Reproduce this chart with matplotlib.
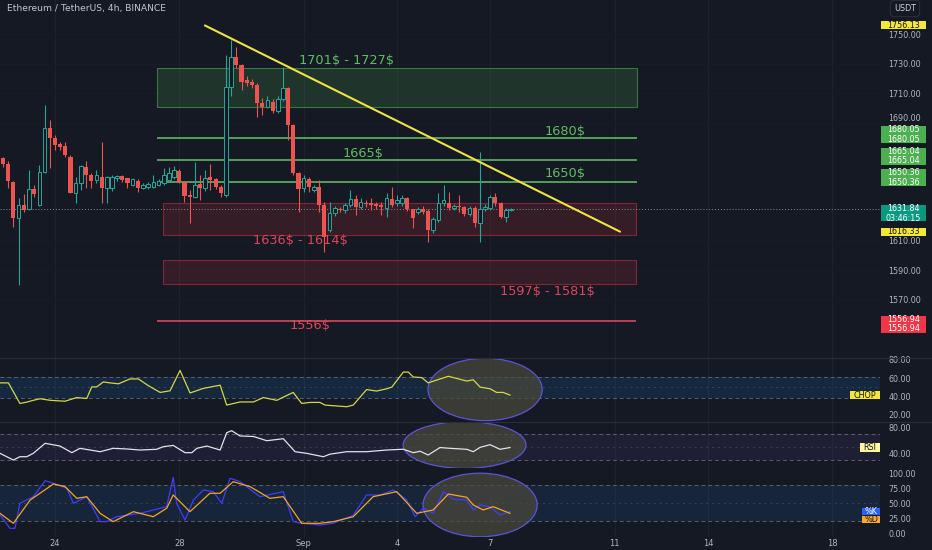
import matplotlib.pyplot as plt
from matplotlib.patches import Rectangle, Ellipse
from matplotlib.lines import Line2D
from matplotlib.transforms import blended_transform_factory

W, H = 932, 550
BG = '#151924'
GRID = '#1e222d'
TXT = '#b2b5be'
UP = '#26a69a'
DOWN = '#ef5350'

# ---- data ----
start_day = 22.33          # first 4h candle (Aug 22)
opens = [1666.1, 1662.2, 1650.2, 1625.4, 1634.4, 1631.5, 1645.0, 1634.4, 1657.0, 1686.4,
         1679.6, 1675.6, 1674.4, 1667.2, 1642.7, 1649.5, 1660.4, 1654.7, 1651.4, 1653.6,
         1645.7, 1646.0, 1652.5, 1654.0, 1652.5, 1648.0, 1651.0, 1645.7, 1646.3, 1646.8,
         1648.0, 1649.1, 1651.4, 1653.2, 1657.7, 1650.2, 1641.2, 1640.0, 1648.4, 1645.7,
         1653.2, 1651.8, 1646.8, 1641.2, 1714.6, 1735.0, 1729.3, 1719.0, 1718.0, 1715.8,
         1703.8, 1700.8, 1704.4, 1698.3, 1706.3, 1713.7, 1688.6, 1656.3, 1646.0, 1652.0,
         1644.4, 1646.8, 1634.4, 1617.5, 1628.8, 1631.5, 1631.0, 1634.4, 1638.3, 1633.3,
         1636.0, 1636.0, 1635.0, 1634.4, 1632.2, 1638.3, 1635.6, 1635.6, 1639.0, 1631.5,
         1629.9, 1631.5, 1630.5, 1617.5, 1624.2, 1635.6, 1636.0, 1632.2, 1633.7, 1632.8,
         1628.3, 1632.2, 1622.4, 1631.5, 1632.2, 1639.6, 1635.6, 1626.5, 1631.0]
highs = [1667.2, 1664.0, 1651.0, 1639.0, 1641.9, 1658.1, 1648.0, 1661.5, 1702.2, 1692.0,
         1681.9, 1677.0, 1677.3, 1668.0, 1653.2, 1661.5, 1664.4, 1656.0, 1658.0, 1677.3,
         1654.0, 1655.0, 1655.0, 1655.0, 1653.0, 1653.0, 1652.0, 1649.0, 1650.0, 1654.7,
         1652.0, 1659.3, 1660.0, 1661.0, 1659.0, 1651.0, 1644.6, 1663.8, 1654.7, 1658.0,
         1662.2, 1653.0, 1648.0, 1736.0, 1746.3, 1741.7, 1730.0, 1721.9, 1720.0, 1717.0,
         1706.7, 1708.0, 1706.0, 1708.0, 1728.2, 1714.5, 1689.0, 1657.0, 1654.7, 1653.5,
         1648.0, 1651.4, 1636.6, 1636.6, 1634.0, 1633.0, 1636.0, 1644.6, 1641.0, 1639.0,
         1638.0, 1639.0, 1636.5, 1636.6, 1642.3, 1646.8, 1641.0, 1641.0, 1640.0, 1632.0,
         1633.0, 1633.7, 1631.5, 1626.0, 1642.3, 1648.0, 1643.4, 1635.0, 1641.2, 1634.0,
         1634.0, 1633.5, 1670.3, 1635.0, 1641.0, 1642.3, 1636.5, 1632.2, 1632.5]
lows = [1660.4, 1645.7, 1619.7, 1580.0, 1629.9, 1631.0, 1640.0, 1634.0, 1656.0, 1659.7,
        1671.7, 1672.0, 1667.2, 1642.3, 1635.6, 1644.6, 1645.7, 1645.7, 1649.0, 1636.0,
        1635.6, 1644.0, 1651.0, 1650.0, 1646.0, 1647.0, 1643.4, 1645.0, 1645.5, 1646.0,
        1647.0, 1648.0, 1650.0, 1652.0, 1649.0, 1636.6, 1622.0, 1639.0, 1637.8, 1644.0,
        1644.6, 1645.0, 1640.0, 1640.0, 1708.0, 1727.0, 1712.4, 1715.0, 1713.7, 1694.3,
        1695.4, 1700.0, 1696.8, 1697.0, 1705.0, 1678.5, 1654.7, 1629.9, 1643.2, 1643.4,
        1643.0, 1629.9, 1602.7, 1616.3, 1627.0, 1629.5, 1629.0, 1633.0, 1627.6, 1632.0,
        1633.0, 1631.0, 1632.0, 1627.6, 1626.5, 1633.0, 1634.0, 1634.0, 1630.0, 1618.6,
        1628.0, 1628.0, 1609.5, 1615.4, 1623.0, 1634.0, 1631.0, 1631.0, 1629.9, 1627.0,
        1627.0, 1619.7, 1609.5, 1630.0, 1631.0, 1634.0, 1625.8, 1623.1, 1630.5]
closes = [1662.2, 1650.9, 1625.4, 1634.4, 1631.0, 1645.0, 1641.9, 1657.0, 1686.4, 1679.6,
          1675.1, 1674.0, 1668.3, 1642.7, 1649.5, 1660.8, 1654.7, 1650.9, 1654.7, 1645.7,
          1653.2, 1653.6, 1654.0, 1651.4, 1649.5, 1651.8, 1645.7, 1648.0, 1648.6, 1650.2,
          1650.5, 1654.7, 1656.3, 1658.1, 1650.2, 1640.5, 1639.6, 1648.0, 1645.7, 1652.5,
          1651.4, 1646.8, 1642.3, 1714.6, 1735.0, 1729.3, 1718.0, 1717.0, 1715.8, 1703.4,
          1700.8, 1705.6, 1698.3, 1706.3, 1713.7, 1688.6, 1656.1, 1645.3, 1652.7, 1646.6,
          1646.6, 1634.4, 1612.9, 1628.8, 1632.2, 1630.7, 1634.4, 1638.3, 1633.3, 1636.6,
          1635.0, 1634.4, 1634.0, 1633.3, 1639.0, 1634.4, 1637.8, 1639.0, 1631.5, 1625.4,
          1631.5, 1629.9, 1617.5, 1624.7, 1635.6, 1637.8, 1632.2, 1633.7, 1632.8, 1628.3,
          1632.7, 1622.4, 1631.5, 1633.3, 1639.6, 1635.6, 1626.5, 1631.0, 1631.84]

chop_x = [22.23, 22.50, 22.87, 23.09, 23.30, 23.52, 23.84, 24.32, 24.70, 25.02,
          25.18, 25.34, 25.55, 25.77, 26.04, 26.41, 26.68, 27.00, 27.38, 27.70,
          28.02, 28.34, 28.77, 29.31, 29.52, 29.95, 30.38, 30.70, 31.13, 31.66,
          31.93, 32.20, 32.52, 32.68, 33.38, 33.59, 34.02, 34.34, 34.67, 34.83,
          35.20, 35.36, 35.52, 35.79, 36.00, 36.27, 36.65, 37.24, 37.45, 37.67,
          37.99, 38.20, 38.41, 38.63]
chop_y = [55, 55, 32.6, 34, 36, 37.7, 36, 35, 39, 38,
          50.6, 50.6, 56, 55, 54, 59.3, 59.3, 52, 44.6, 46.4,
          68.6, 44, 49, 52.5, 30.8, 34.2, 34.2, 39, 36, 44.6,
          32.6, 33.7, 33.7, 30.8, 29, 30.8, 47.7, 46.1, 48.6, 50.4,
          66.8, 66.8, 61.4, 60.8, 55, 58, 62.2, 57, 58.4, 50.4,
          48.6, 44.6, 44.6, 41.7]

rsi_x = [22.23, 22.66, 22.87, 23.09, 23.30, 23.68, 24.16, 24.54, 24.80, 25.13,
         25.45, 25.87, 26.31, 26.73, 27.27, 27.48, 27.80, 28.18, 28.40, 28.56,
         28.88, 29.31, 29.52, 29.68, 29.95, 30.38, 30.81, 31.34, 31.72, 32.09,
         32.63, 32.84, 33.38, 34.02, 34.67, 35.20, 35.52, 35.74, 36.00, 36.38,
         36.70, 37.24, 37.45, 37.67, 37.99, 38.31, 38.63]
rsi_y = [39.8, 29.5, 34.6, 34.6, 39.8, 55.2, 51, 40.8, 47.5, 44.9,
         42.3, 47.5, 46.5, 44.9, 46, 50, 52, 40.8, 40.8, 47.5,
         51, 44.9, 71.5, 74.6, 66.5, 65.7, 59.2, 62.3, 42.3, 39.8,
         34.6, 38.5, 42.3, 42.3, 44.9, 46.1, 40.8, 43, 37.2, 48.7,
         47.5, 46, 42.3, 49, 53.1, 46, 48.7]

k_x = [22.23, 22.55, 22.71, 22.87, 23.30, 23.68, 23.95, 24.38, 24.59, 25.02,
       25.45, 25.66, 25.98, 26.73, 27.38, 27.59, 27.80, 27.91, 28.18, 28.45,
       28.77, 29.09, 29.36, 29.63, 29.95, 30.59, 31.34, 31.66, 31.93, 32.52,
       32.95, 33.59, 34.02, 34.45, 34.88, 35.31, 35.58, 35.84, 36.16, 36.49,
       36.81, 37.24, 37.45, 37.67, 37.99, 38.31, 38.63]
k_y = [30.5, 8.3, 8.3, 50, 61, 87.7, 83.3, 75, 50, 61,
       19.4, 19.4, 27.7, 33.3, 41.7, 44.4, 93.2, 50, 22.2, 55.5,
       72.2, 69.4, 50, 91.7, 86, 61, 69.4, 19.4, 16.7, 13.9,
       16.7, 30, 63.9, 63.9, 72.2, 55.5, 27.7, 41.7, 33.3, 69.4,
       56.7, 55.5, 38.9, 47.2, 44.4, 30.5, 36.1]

d_x = [22.23, 22.66, 23.20, 23.95, 24.32, 24.70, 25.02, 25.45, 25.87, 26.52,
       27.16, 27.59, 27.80, 28.34, 28.98, 29.31, 29.73, 30.27, 30.91, 31.34,
       31.93, 32.52, 32.95, 33.59, 34.23, 34.99, 35.63, 36.16, 36.65, 37.24,
       37.45, 37.77, 38.09, 38.63]
d_y = [33.3, 16.7, 55.5, 82.2, 77.8, 58.3, 61, 33.3, 19.4, 36,
       27.7, 41.7, 63.9, 36, 66.7, 66.7, 86, 77.8, 58.3, 61,
       16.7, 16.7, 19.4, 27.7, 61, 69.4, 33.3, 38.9, 65.5, 60,
       47.2, 38.9, 44.4, 33.3]

date_ticks = [24, 28, 32, 35, 38, 42, 45, 49]
date_labels = ['24', '28', 'Sep', '4', '7', '11', '14', '18']
price_ticks = [1570, 1590, 1610, 1690, 1710, 1730, 1750]

green_zone = (1701, 1727)
green_levels = [1680, 1665, 1650]
red_zones = [(1614, 1636), (1581, 1597)]
red_level = 1556
trend_x = [28.82, 42.17]
trend_y = [1756.13, 1616.33]
last_price = 1631.84

# ---- figure / panes ----
fig = plt.figure(figsize=(W / 100, H / 100), dpi=100, facecolor=BG)


def pane(top, bot, ylim):
    ax = fig.add_axes([0, 1 - bot / H, 880 / W, (bot - top) / H])
    ax.set_facecolor(BG)
    for s in ax.spines.values():
        s.set_visible(False)
    ax.set_xlim(22.23, 50.53)
    ax.set_ylim(*ylim)
    ax.set_xticks(date_ticks)
    ax.tick_params(axis='x', length=0, labelbottom=False)
    ax.yaxis.tick_right()
    ax.tick_params(axis='y', length=0, pad=6, labelsize=5.8, labelcolor=TXT)
    for d in date_ticks:
        ax.axvline(d, color=GRID, lw=0.8, zorder=0)
    return ax


def tag(ax, val, text, fc, tc, x0, x1, h_px, dy_px=0):
    lo, hi = ax.get_ylim()
    ppu = ax.get_position().height * H / (hi - lo)
    c = val - dy_px / ppu
    tr = blended_transform_factory(ax.transAxes, ax.transData)
    ax.add_patch(Rectangle((x0, c - h_px / 2 / ppu), x1 - x0, h_px / ppu, transform=tr,
                           facecolor=fc, edgecolor='none', clip_on=False, zorder=10))
    ax.text((x0 + x1) / 2, c, text, transform=tr, ha='center', va='center', color=tc,
            fontsize=5.8, linespacing=1.05, zorder=11, clip_on=False)


ax = pane(0, 358.3, (1530.47, 1773.39))
chop = pane(358.3, 421.7, (12.67, 81.81))
rsi = pane(421.7, 468, (17.23, 88.46))
sto = pane(468, 537, (-6.17, 108.83))

# ---- main price pane ----
ax.set_yticks(price_ticks)
ax.set_yticklabels([f'{p:.2f}' for p in price_ticks])
for t in ax.get_yticklabels():
    if t.get_text() == '1690.00':
        t.set_va('bottom')
for p in price_ticks:
    ax.axhline(p, color='#191d28', lw=0.6, zorder=0)

gc = (0.30, 0.69, 0.31)
rc = (0.95, 0.21, 0.27)
ax.add_patch(Rectangle((27.28, green_zone[0]), 42.71 - 27.28, green_zone[1] - green_zone[0],
                       facecolor=gc + (0.18,), edgecolor=gc + (0.6,), lw=0.8, zorder=1))
for lo, hi in red_zones:
    ax.add_patch(Rectangle((27.47, lo), 42.68 - 27.47, hi - lo,
                           facecolor=rc + (0.15,), edgecolor=rc + (0.45,), lw=0.8, zorder=1))
ax.hlines(green_levels, 27.28, 42.71, colors='#66c26a', lw=1.1, zorder=2)
ax.hlines(red_level, 27.28, 42.68, colors='#d9475a', lw=1.2, zorder=2)
ax.axhline(last_price, color='#8a8d96', lw=0.7, ls=(0, (1, 2)), zorder=2)

for i, (o, h, l, c) in enumerate(zip(opens, highs, lows, closes)):
    x = start_day + i / 6
    col = UP if c >= o else DOWN
    ax.vlines(x, l, h, colors=col, lw=0.8, zorder=3)
    bh = max(abs(c - o), 0.5)
    if c >= o:
        ax.bar(x, bh, bottom=min(o, c), width=0.115, facecolor=BG, edgecolor=col, lw=0.7, zorder=4)
    else:
        ax.bar(x, bh, bottom=min(o, c), width=0.13, color=col, lw=0, zorder=4)

ax.plot(trend_x, trend_y, color='#f0e442', lw=1.5, zorder=5, solid_capstyle='round')

lab = dict(fontsize=9.3, ha='center', va='center', zorder=6)
ax.text(33.36, 1732.2, f'{green_zone[0]}\\$ - {green_zone[1]}\\$', color='#5fbf63', **lab)
ax.text(40.41, 1684.1, f'{green_levels[0]}\\$', color='#5fbf63', **lab)
ax.text(33.90, 1669.5, f'{green_levels[1]}\\$', color='#5fbf63', **lab)
ax.text(40.41, 1655.9, f'{green_levels[2]}\\$', color='#5fbf63', **lab)
ax.text(31.88, 1610.0, f'{red_zones[0][1]}\\$ - {red_zones[0][0]}\\$', color='#e0465a', **lab)
ax.text(39.82, 1575.6, f'{red_zones[1][1]}\\$ - {red_zones[1][0]}\\$', color='#e0465a', **lab)
ax.text(32.20, 1552.4, f'{red_level}\\$', color='#e0465a', **lab)

px0, px1 = 881 / 880, 926 / 880
tag(ax, 1756.13, '1756.13', '#f5e63a', '#131722', px0, px1, 8)
tag(ax, 1680.05, '1680.05\n1680.05', '#4caf50', 'white', px0, px1, 17, -3.0)
tag(ax, 1665.04, '1665.04\n1665.04', '#4caf50', 'white', px0, px1, 17, -3.5)
tag(ax, 1650.36, '1650.36\n1650.36', '#4caf50', 'white', px0, px1, 17, -4)
tag(ax, last_price, '1631.84\n03:46:15', '#089981', 'white', px0, px1, 16, 4.6)
tag(ax, 1616.33, '1616.33', '#f5e63a', '#131722', px0, px1, 8)
tag(ax, 1556.94, '1556.94\n1556.94', '#f23645', 'white', px0, px1, 17, 5)

# ---- CHOP ----
chop.set_yticks([20, 40, 60, 80])
chop.set_yticklabels(['20.00', '40.00', '60.00', '80.00'])
chop.axhspan(38.2, 61.8, color='#2196f3', alpha=0.12, lw=0, zorder=0.5)
for v, ls in [(61.8, (0, (4, 3))), (50, (0, (2, 4))), (38.2, (0, (4, 3)))]:
    chop.axhline(v, color='#787b86', lw=0.7, ls=ls, alpha=0.7 if v != 50 else 0.35, zorder=1)
chop.add_patch(Ellipse((37.83, 47.8), 3.67, 68, facecolor='#4b4a3c', alpha=0.7,
                       edgecolor='none', zorder=1.5))
chop.add_patch(Ellipse((37.83, 47.8), 3.67, 68, facecolor='none', edgecolor='#5a55d8',
                       lw=0.9, zorder=1.6))
chop.plot(chop_x, chop_y, color='#d6d64a', lw=0.9, zorder=3)
tag(chop, chop_y[-1], 'CHOP', '#f5e63a', '#131722', 850 / 880, 1.0, 8.5)

# ---- RSI ----
rsi.set_yticks([40, 80])
rsi.set_yticklabels(['40.00', '80.00'])
rsi.axhspan(30, 70, color='#7e57c2', alpha=0.1, lw=0, zorder=0.5)
for v, ls in [(70, (0, (4, 3))), (50, (0, (2, 4))), (30, (0, (4, 3)))]:
    rsi.axhline(v, color='#787b86', lw=0.7, ls=ls, alpha=0.7 if v != 50 else 0.35, zorder=1)
rsi.add_patch(Ellipse((37.17, 52.6), 3.95, 72, facecolor='#4b4a3c', alpha=0.7,
                      edgecolor='none', zorder=1.5))
rsi.add_patch(Ellipse((37.17, 52.6), 3.95, 72, facecolor='none', edgecolor='#5a55d8',
                      lw=0.9, zorder=1.6))
rsi.plot(rsi_x, rsi_y, color='#e4e1ea', lw=0.9, zorder=3)
tag(rsi, rsi_y[-1], 'RSI', '#fff59d', '#131722', 860 / 880, 1.0, 8.5)

# ---- Stoch RSI ----
sto.set_yticks([0, 25, 50, 75, 100])
sto.set_yticklabels(['0.00', '25.00', '50.00', '75.00', '100.00'])
sto.axhspan(20, 80, color='#2196f3', alpha=0.1, lw=0, zorder=0.5)
for v, ls in [(80, (0, (4, 3))), (50, (0, (2, 4))), (20, (0, (4, 3)))]:
    sto.axhline(v, color='#787b86', lw=0.7, ls=ls, alpha=0.7 if v != 50 else 0.35, zorder=1)
sto.add_patch(Ellipse((37.67, 47.2), 3.67, 106, facecolor='#4b4a3c', alpha=0.7,
                      edgecolor='none', zorder=1.5))
sto.add_patch(Ellipse((37.67, 47.2), 3.67, 106, facecolor='none', edgecolor='#5a55d8',
                      lw=0.9, zorder=1.6))
sto.plot(k_x, k_y, color='#3f3dff', lw=0.9, zorder=3)
sto.plot(d_x, d_y, color='#f5a623', lw=0.9, zorder=4)
tag(sto, k_y[-1], '%K', '#2962ff', 'white', 862 / 880, 1.0, 7)
tag(sto, d_y[-1], '%D', '#ffa726', '#131722', 862 / 880, 1.0, 7, 6.2)

sto.set_xticklabels(date_labels)
sto.tick_params(axis='x', labelbottom=True, labelsize=6, labelcolor=TXT, pad=1.5)

# pane separators
for y in (358.3, 421.7):
    fig.add_artist(Line2D([0, 1], [1 - y / H] * 2, transform=fig.transFigure,
                          color='#2a2e39', lw=0.8))

fig.text(7 / W, 1 - 8 / H, 'Ethereum / TetherUS, 4h, BINANCE', fontsize=6.6,
         color='#c3c6ce', ha='left', va='center')
fig.text(905 / W, 1 - 8.5 / H, 'USDT', fontsize=5.8, color='#d1d4dc', ha='center', va='center',
         bbox=dict(boxstyle='round,pad=0.45', fc=BG, ec='#2a2e39', lw=0.8))

fig.savefig('out.png', dpi=100, facecolor=BG)
